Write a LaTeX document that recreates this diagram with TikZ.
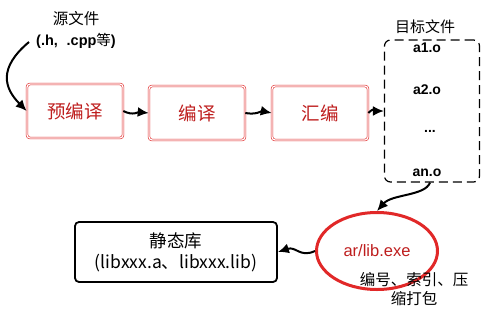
\documentclass[tikz,border=0pt]{standalone}
\usepackage{fontspec}
\setmainfont{Liberation Sans}
\newfontfamily\cjk{Noto Sans CJK SC}
\usetikzlibrary{arrows.meta,shapes.geometric}
\definecolor{boxred}{RGB}{225,40,40}
\definecolor{txtred}{RGB}{190,30,30}
\begin{document}
\begin{tikzpicture}[x=1pt,y=-1pt,
  stage/.style={draw=boxred,double=white,double distance=1.2pt,line width=0.6pt,rounded corners=3pt,
     minimum width=96pt,minimum height=54pt,text=txtred,font=\cjk\fontsize{18.5}{22}\selectfont,inner sep=0pt},
  arr/.style={-{Latex[length=11pt,width=10pt]},line width=2pt,black},
  objtxt/.style={font=\bfseries\fontsize{14}{16}\selectfont}]
\useasboundingbox (0,0) rectangle (484,316);
% source label
\node[font=\cjk\fontsize{15.5}{18}\selectfont] (srcA) at (76,19) {源文件};
\node[font=\bfseries\fontsize{14.5}{17}\selectfont] (srcB) at (76,41) {(.h,\hspace{0.6em}.cpp{\cjk\mdseries 等})};
% stages
\node[stage] (pre) at (75,111) {预编译};
\node[stage] (cmp) at (197,113) {编译};
\node[stage] (asm) at (320,113) {汇编};
% object files
\node[draw=black,dash pattern=on 9pt off 5pt,line width=1.2pt,rounded corners=6pt,minimum width=95pt,minimum height=142pt] (obj) at (432,111) {};
\node[font=\cjk\fontsize{15}{17}\selectfont] (objT) at (425,27) {目标文件};
\node[objtxt] (a1) at (427,48) {a1.o};
\node[objtxt] (a2) at (427,90) {a2.o};
\node[objtxt] (dots) at (430,131) {...};
\node[objtxt] (an) at (427,173) {an.o};
% ar ellipse
\node[draw=boxred,ellipse,line width=3pt,minimum width=121pt,minimum height=77pt,inner sep=0pt] (ar) at (377,251) {};
\node[text=txtred,font=\fontsize{16.5}{19}\selectfont] (arT) at (377,251) {ar/lib.exe};
\node[font=\cjk\fontsize{15.5}{18}\selectfont,align=center] (arD) at (414,289) {编号、索引、压\\[1pt]缩打包};
% static lib
\node[draw,line width=1.8pt,rounded corners=4pt,minimum width=202pt,minimum height=60pt,align=center,
  font=\cjk\fontsize{17.5}{21}\selectfont] (lib) at (176,252) {静态库\\(libxxx.a、libxxx.lib)};
% connectors
\coordinate (s0) at (29,42);
\draw[arr] (s0) .. controls (-2,68) and (4,88) .. (pre.west);
\draw[arr] (pre.east) .. controls (133,116) and (138,112) .. (cmp.west);
\draw[arr] (cmp.east) .. controls (256,115) and (262,111) .. (asm.west);
\draw[arr] (asm.east) .. controls (375,106) and (378,111) .. (obj.west);
\draw[arr] (obj.south) ++(-2,0) .. controls (425,196) and (392,194) .. (ar.north);
\draw[arr] (ar.west) .. controls (300,258) and (296,246) .. (lib.east);
\end{tikzpicture}
\end{document}
